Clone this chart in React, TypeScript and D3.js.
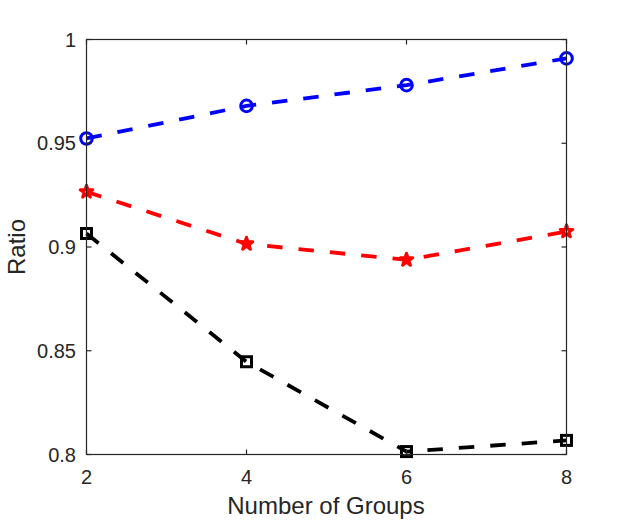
import React from "react";
import * as d3 from "d3";

const groups = [2, 4, 6, 8];
const blueSeries = [0.9523, 0.968, 0.978, 0.9909];
const redSeries = [0.9266, 0.9015, 0.8938, 0.9075];
const blackSeries = [0.9065, 0.8447, 0.8014, 0.8068];
const xTicks = [2, 4, 6, 8];
const yTicks = [0.8, 0.85, 0.9, 0.95, 1];
const yTickLabels = ["0.8", "0.85", "0.9", "0.95", "1"];

const W = 625;
const H = 521;
const left = 86.5;
const right = 566.5;
const top = 39.5;
const bottom = 454.5;
const axisColor = "#262626";
const font = "'Liberation Sans', Arial, Helvetica, sans-serif";

function starPath(cx: number, cy: number, R: number) {
  const r = R * 0.382;
  const pts: string[] = [];
  for (let i = 0; i < 10; i++) {
    const ang = -Math.PI / 2 + (i * Math.PI) / 5;
    const rad = i % 2 === 0 ? R : r;
    pts.push(`${cx + rad * Math.cos(ang)},${cy + rad * Math.sin(ang)}`);
  }
  return "M" + pts.join("L") + "Z";
}

export default function App() {
  const x = d3.scaleLinear().domain([2, 8]).range([left, right]);
  const y = d3.scaleLinear().domain([0.8, 1]).range([bottom, top]);
  const line = d3
    .line<number>()
    .x((_, i) => x(groups[i]))
    .y((d) => y(d));

  const series = [
    { data: blueSeries, color: "#0000ff", marker: "circle" },
    { data: redSeries, color: "#ff0000", marker: "star" },
    { data: blackSeries, color: "#000000", marker: "square" },
  ];

  return (
    <div style={{ position: "absolute", left: 0, top: 0 }}>
      <svg width={W} height={H} style={{ display: "block", background: "#fff" }}>
        <rect x={0} y={0} width={W} height={H} fill="#fff" />
        {series.map((s, si) => (
          <g key={si}>
            <path
              d={line(s.data) || ""}
              fill="none"
              stroke={s.color}
              strokeWidth={3.8}
              strokeDasharray="15.5,16"
            />
            {s.data.map((v, i) => {
              const cx = x(groups[i]);
              const cy = y(v);
              if (s.marker === "circle")
                return <circle key={i} cx={cx} cy={cy} r={5.8} fill="none" stroke={s.color} strokeWidth={3} />;
              if (s.marker === "square")
                return <rect key={i} x={cx - 5} y={cy - 5} width={10} height={10} fill="none" stroke={s.color} strokeWidth={3} />;
              return <path key={i} d={starPath(cx, cy, 6.6)} fill="none" stroke={s.color} strokeWidth={3} strokeLinejoin="round" />;
            })}
          </g>
        ))}
        <rect x={left} y={top} width={right - left} height={bottom - top} fill="none" stroke={axisColor} strokeWidth={1.2} />
        {xTicks.map((t) => (
          <g key={"x" + t}>
            <line x1={x(t)} x2={x(t)} y1={bottom} y2={bottom - 5} stroke={axisColor} strokeWidth={1.2} />
            <line x1={x(t)} x2={x(t)} y1={top} y2={top + 5} stroke={axisColor} strokeWidth={1.2} />
            <text x={x(t)} y={484} textAnchor="middle" fontFamily={font} fontSize={20} fill={axisColor}>
              {t}
            </text>
          </g>
        ))}
        {yTicks.map((t, i) => (
          <g key={"y" + t}>
            <line x1={left} x2={left + 5} y1={y(t)} y2={y(t)} stroke={axisColor} strokeWidth={1.2} />
            <line x1={right} x2={right - 5} y1={y(t)} y2={y(t)} stroke={axisColor} strokeWidth={1.2} />
            <text x={76} y={y(t) + 7} textAnchor="end" fontFamily={font} fontSize={20} fill={axisColor}>
              {yTickLabels[i]}
            </text>
          </g>
        ))}
        <text x={326} y={514} textAnchor="middle" fontFamily={font} fontSize={24} fill={axisColor}>
          Number of Groups
        </text>
        <text
          transform={`translate(25,247) rotate(-90)`}
          textAnchor="middle"
          fontFamily={font}
          fontSize={24}
          fill={axisColor}
        >
          Ratio
        </text>
      </svg>
    </div>
  );
}
